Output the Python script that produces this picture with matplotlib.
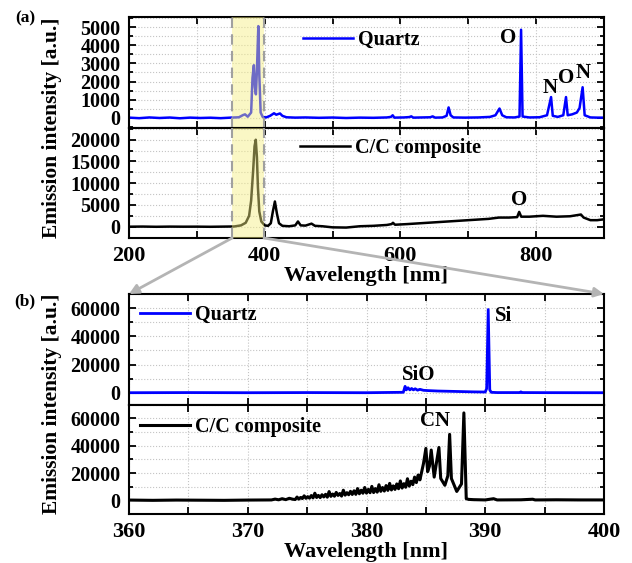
import matplotlib
matplotlib.use("Agg")
import matplotlib.pyplot as plt
from matplotlib.ticker import MultipleLocator, FuncFormatter
from matplotlib.patches import ConnectionPatch

plt.rcParams['font.family'] = ['Liberation Serif', 'DejaVu Serif']
plt.rcParams['font.weight'] = 'bold'
plt.rcParams['axes.labelweight'] = 'bold'

# ---------------- (a) full spectrum, 200-900 nm ----------------
quartz_a_wl = [200, 215, 230, 245, 260, 275, 290, 305, 320, 335, 350, 362, 368, 371, 375,
               380, 382, 384, 385.5, 387, 388.5, 390.6, 392, 394, 397, 402, 408, 413.7,
               417, 422.5, 426, 432, 445, 460, 480, 500, 520, 540, 560, 580, 586, 588.6,
               591, 605, 613, 616, 619, 632, 644, 647.5, 651, 662, 668, 671, 674, 678,
               695, 715, 732, 740, 746, 750, 756, 768, 775.5, 777.8, 780, 790, 805, 816,
               822, 824.5, 832, 840, 844, 846.5, 853, 860, 864, 868.5, 871.5, 880, 890, 900]
quartz_a_int = [20, -10, 30, 0, 25, -15, 20, 0, 15, -10, 20, 40, 160, 200, 70,
                300, 2200, 2900, 1700, 1300, 2600, 5050, 2400, 300, 60, 30, 120, 260,
                180, 250, 120, 40, 20, 30, 10, 25, 0, 20, 10, 30, 60, 150,
                20, 30, 50, 90, 20, 30, 40, 90, 20, 30, 120, 580, 150, 30,
                20, 30, 60, 150, 520, 150, 40, 30, 80, 4850, 80, 30, 40, 150,
                1150, 120, 60, 150, 1150, 150, 200, 300, 550, 1690, 150, 30, 20, 20]

cc_a_wl = [200, 220, 240, 260, 280, 300, 320, 340, 355, 365, 372, 377, 380, 383, 385,
           386.8, 388.5, 390, 392, 395, 400, 405, 409, 412, 415, 418, 421, 426, 436,
           445, 449, 453, 460, 469, 474, 485, 500, 520, 540, 560, 580, 587, 589, 592,
           610, 630, 650, 670, 690, 710, 730, 745, 760, 772, 775, 778, 790, 810, 830,
           850, 866, 870, 880, 890, 900]
cc_a_int = [0, 30, -20, 20, 0, 10, -20, 20, 50, 300, 900, 2500, 6000, 13000, 18500,
            20000, 16000, 9000, 3500, 1200, 300, 200, 800, 3500, 5800, 3000, 800, 200, 100,
            300, 1200, 300, 250, 700, 200, 100, -150, -200, 100, 200, 400, 600, 900, 450,
            600, 800, 1000, 1200, 1400, 1600, 1800, 2100, 2100, 2200, 3400, 2300, 2300, 2500, 2300,
            2400, 2800, 2100, 1500, 1500, 1700]

# ---------------- (b) zoom, 360-400 nm ----------------
quartz_b_wl = [360, 365, 370, 375, 380, 383.1, 383.25, 383.35, 383.5, 383.65, 383.8, 383.95,
               384.1, 384.3, 384.5, 384.8, 385.2, 386, 387, 388, 389, 390.0, 390.12, 390.25,
               390.38, 390.5, 391, 392.9, 393.0, 393.1, 395, 400]
quartz_b_int = [0, 100, 0, 100, 0, 300, 4500, 2000, 3500, 2000, 3000, 2000,
                2800, 1800, 2400, 1700, 1500, 1200, 1000, 800, 600, 500, 3000, 59000,
                2000, 300, 100, 100, 600, 100, 50, 0]

cc_b_wl = [360, 362, 364, 366, 368, 370, 372, 372.3, 372.6, 372.9, 373.2, 373.5, 373.8,
           374.0, 374.15, 374.3, 374.45, 374.6, 374.75, 374.9, 375.05, 375.2, 375.35,
           375.5, 375.65, 375.8, 375.95, 376.1, 376.25, 376.4, 376.55, 376.7, 376.85,
           377.0, 377.15, 377.3, 377.45, 377.6, 377.75, 377.9, 378.05, 378.2, 378.35,
           378.5, 378.65, 378.8, 378.95, 379.1, 379.25, 379.4, 379.55, 379.7, 379.85,
           380.0, 380.15, 380.3, 380.45, 380.6, 380.75, 380.9, 381.05, 381.2, 381.35,
           381.5, 381.65, 381.8, 381.95, 382.1, 382.25, 382.4, 382.55, 382.7, 382.85,
           383.0, 383.15, 383.3, 383.45, 383.6, 383.75, 383.9, 384.05, 384.2, 384.35,
           384.5, 384.65, 384.8,
           385.0, 385.15, 385.3, 385.45, 385.7, 385.9, 386.1, 386.25, 386.6, 386.85,
           387.0, 387.15, 387.6, 388.0, 388.2, 388.4, 388.6, 389, 390, 390.7, 391, 393,
           394, 394.2, 396, 398, 400]
cc_b_int = [200, 0, 200, 100, 0, 200, 300, 900, 400, 1200, 500, 1500, 800,
            600, 2400, 900, 2100, 1300, 3300, 1500, 2700, 1600, 3500,
            1800, 5200, 2100, 3600, 2000, 4100, 2500, 4400, 2300, 6400,
            2900, 4600, 3000, 5800, 3600, 5000, 3100, 7400, 3800, 5600,
            4100, 6600, 4300, 7000, 4400, 8600, 4800, 7400, 5200, 9400,
            5300, 8000, 5600, 10200, 5700, 8600, 6000, 11400, 6600, 9400,
            6800, 10800, 7300, 12400, 7600, 10600, 8000, 12000, 8500, 14200,
            9000, 12200, 9600, 15800, 10400, 14000, 11500, 17000, 13000, 18500,
            15000, 21000, 27000,
            38000, 21000, 25000, 36800, 17000, 28000, 38700, 16000, 11000, 18000,
            48300, 16000, 6500, 12000, 64000, 1200, 700, 500, 300, 1200, 300, 400,
            800, 300, 400, 300, 300]

span_lo, span_hi = 352, 399

fig = plt.figure(figsize=(6.32, 5.63), dpi=100)
W, H = 632.0, 563.0


def box(top, bottom, left=129, right=604):
    return [left / W, 1 - bottom / H, (right - left) / W, (bottom - top) / H]


ax1 = fig.add_axes(box(17, 128))
ax2 = fig.add_axes(box(128, 238))
ax3 = fig.add_axes(box(294, 404.7))
ax4 = fig.add_axes(box(404.7, 514))

ax1.plot(quartz_a_wl, quartz_a_int, color='#0000ff', lw=1.8, label='Quartz')
ax2.plot(cc_a_wl, cc_a_int, color='black', lw=1.8, label='C/C composite')
ax3.plot(quartz_b_wl, quartz_b_int, color='#0000ff', lw=2.0, label='Quartz')
ax4.plot(cc_b_wl, cc_b_int, color='black', lw=2.2, label='C/C composite')

for ax in (ax1, ax2):
    ax.set_xlim(200, 900)
    ax.xaxis.set_major_locator(MultipleLocator(100))
    ax.axvspan(span_lo, span_hi, color='#f5ee80', alpha=0.45, lw=0, zorder=5)
    for xv in (span_lo, span_hi):
        ax.axvline(xv, color='#a0a0a0', lw=1.5, ls=(0, (5, 3)), zorder=6)
for ax in (ax3, ax4):
    ax.set_xlim(360, 400)
    ax.xaxis.set_major_locator(MultipleLocator(5))

ax1.set_ylim(-550, 5550)
ax1.yaxis.set_major_locator(MultipleLocator(1000))
ax1.yaxis.set_minor_locator(MultipleLocator(500))
ax2.set_ylim(-2600, 22700)
ax2.yaxis.set_major_locator(MultipleLocator(5000))
ax2.yaxis.set_minor_locator(MultipleLocator(2500))
ax3.set_ylim(-8500, 70000)
ax4.set_ylim(-10000, 70000)
for ax in (ax3, ax4):
    ax.yaxis.set_major_locator(MultipleLocator(20000))
    ax.yaxis.set_minor_locator(MultipleLocator(10000))

every200 = FuncFormatter(lambda v, p: '%d' % v if round(v) % 200 == 0 else '')
every10 = FuncFormatter(lambda v, p: '%d' % v if round(v) % 10 == 0 else '')

for ax in (ax1, ax2, ax3, ax4):
    ax.grid(True, which='both', axis='y', ls=':', color='#c4c4c4', lw=0.8)
    ax.grid(True, which='major', axis='x', ls=':', color='#c4c4c4', lw=0.8)
    ax.tick_params(which='both', direction='in', top=True, right=True, width=1.3)
    ax.tick_params(which='major', length=5)
    ax.tick_params(which='minor', length=3)
    ax.tick_params(axis='y', labelsize=14.5, pad=6)
    ax.tick_params(axis='x', labelsize=16, pad=6)
    for s in ax.spines.values():
        s.set_linewidth(1.5)
    ax.set_axisbelow(True)

ax1.tick_params(axis='x', labelbottom=False)
ax3.tick_params(axis='x', labelbottom=False)
ax2.xaxis.set_major_formatter(every200)
ax4.xaxis.set_major_formatter(every10)
ax2.set_xlabel('Wavelength [nm]', fontsize=16, labelpad=0)
ax4.set_xlabel('Wavelength [nm]', fontsize=16, labelpad=0)

legend_kw = dict(frameon=False, fontsize=14.5, handlelength=2.5, handletextpad=0.25,
                 borderaxespad=0, borderpad=0, loc='center left')
ax1.legend(bbox_to_anchor=(0.366, 0.79), **legend_kw)
ax2.legend(bbox_to_anchor=(0.36, 0.82), **legend_kw)
ax3.legend(bbox_to_anchor=(0.023, 0.81), **legend_kw)
ax4.legend(bbox_to_anchor=(0.023, 0.80), **legend_kw)

txt = dict(fontsize=15, fontweight='bold', ha='center', va='center')
ax1.text(759, 4420, 'O', **txt)
ax1.text(821, 1650, 'N', **txt)
ax1.text(844, 2200, 'O', **txt)
ax1.text(869, 2470, 'N', **txt)
ax2.text(775, 6150, 'O', **txt)
ax3.text(391.5, 54600, 'Si', **txt)
ax3.text(384.4, 12600, 'SiO', **txt)
ax4.text(385.8, 58100, 'CN', **txt)

fig.text(52 / W, 1 - 127.5 / H, 'Emission intensity [a.u.]', rotation=90,
         ha='center', va='center', fontsize=15.5, fontweight='bold')
fig.text(52 / W, 1 - 404 / H, 'Emission intensity [a.u.]', rotation=90,
         ha='center', va='center', fontsize=15.5, fontweight='bold')
fig.text(25 / W, 1 - 18 / H, '(a)', ha='center', va='center', fontsize=12.5, fontweight='bold')
fig.text(25 / W, 1 - 301 / H, '(b)', ha='center', va='center', fontsize=12.5, fontweight='bold')

# zoom arrows from the highlighted band to panel (b)
for xa, xb in ((span_lo, 360), (span_hi, 400)):
    con = ConnectionPatch(xyA=(xa, ax2.get_ylim()[0]), coordsA=ax2.transData,
                          xyB=(xb, ax3.get_ylim()[1]), coordsB=ax3.transData,
                          arrowstyle='-|>', mutation_scale=14, color='#b4b4b4', lw=2)
    fig.add_artist(con)

fig.savefig('out.png', dpi=100)
